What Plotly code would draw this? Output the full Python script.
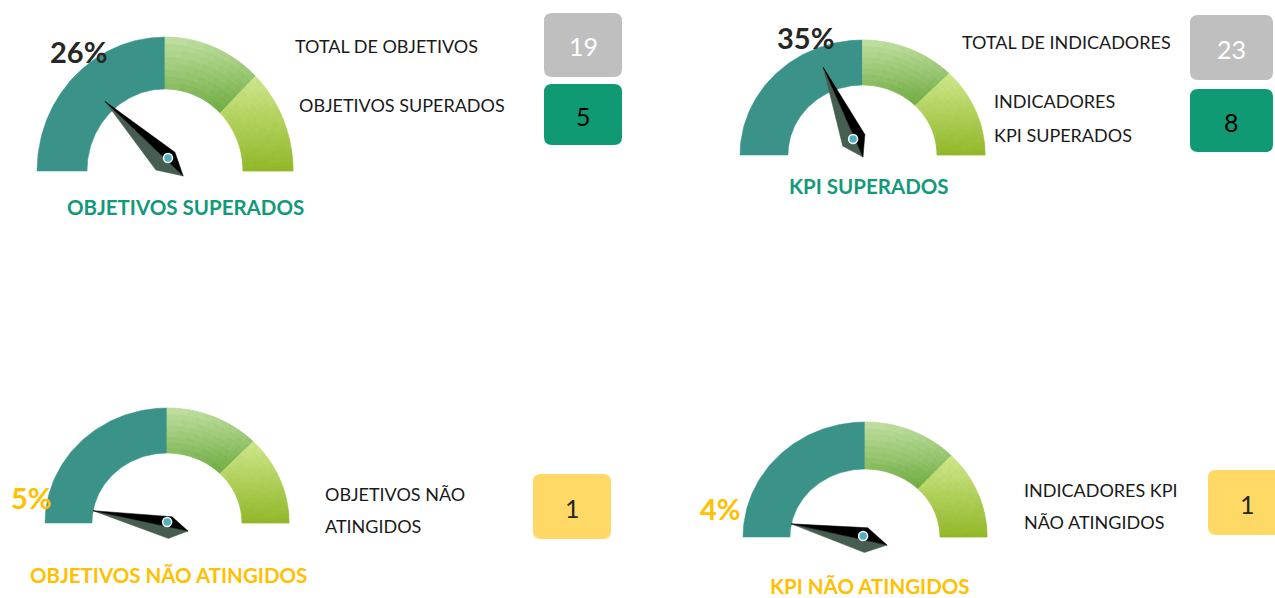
import numpy as np
import plotly.graph_objects as go

# ---------------- data ----------------
gauge_titles = ["OBJETIVOS SUPERADOS", "KPI SUPERADOS", "OBJETIVOS NÃO ATINGIDOS", "KPI NÃO ATINGIDOS"]
gauge_counts = [5, 8, 1, 1]
gauge_totals = [19, 23, 19, 23]
band_edges = [0.0, 0.5, 0.75, 1.0]

total_objetivos = 19
objetivos_superados = 5
total_indicadores = 23
kpi_superados = 8
objetivos_nao_atingidos = 1
kpi_nao_atingidos = 1

side_labels = [
    [["TOTAL DE OBJETIVOS"], ["OBJETIVOS SUPERADOS"]],
    [["TOTAL DE INDICADORES"], ["INDICADORES", "KPI SUPERADOS"]],
    [["OBJETIVOS NÃO", "ATINGIDOS"]],
    [["INDICADORES KPI", "NÃO ATINGIDOS"]],
]
side_values = [
    [total_objetivos, objetivos_superados],
    [total_indicadores, kpi_superados],
    [objetivos_nao_atingidos],
    [kpi_nao_atingidos],
]

# ---------------- layout / style ----------------
W, H = 1275, 598
TEAL = "#3a9289"
GREEN_TXT = "#12997a"
YELLOW_TXT = "#ffc000"
seg_grad = [(("#bcdd9d"), ("#72ad44")), (("#cbe486"), ("#92b82a"))]

# needle geometry: distances along the value direction (u) and perpendicular offsets (n)
gauges = [
    dict(cx=165, cy=171, rxo=128, ryo=134, rxi=78, ryi=82,
         tip=(92, 3), piv=(7, 7), tail=(-16, 10), hw=13, dot=(7.5, 11),
         pct_xy=(78, 51), pct_col="#262626", title_xy=(185, 207), title_col=GREEN_TXT),
    dict(cx=862.5, cy=155, rxo=122.5, ryo=115, rxi=74.5, ryi=70,
         tip=(96, 5.5), piv=(17, -1), tail=(-2, -0.5), hw=12.5, dot=(18.5, -1),
         pct_xy=(805, 37), pct_col="#262626", title_xy=(869, 186), title_col=GREEN_TXT),
    dict(cx=167, cy=523, rxo=122, ryo=115, rxi=75, ryi=70,
         tip=(75, 0), piv=(-4, -4), tail=(-22, -4.5), hw=11, dot=(0, 1),
         pct_xy=(31, 497), pct_col=YELLOW_TXT, title_xy=(168, 575), title_col=YELLOW_TXT),
    dict(cx=865, cy=537, rxo=122, ryo=115, rxi=75, ryi=68,
         tip=(75, 3), piv=(-1.5, -3), tail=(-23, -5), hw=12.5, dot=(2, 0.7),
         pct_xy=(720, 508), pct_col=YELLOW_TXT, title_xy=(870, 586), title_col=YELLOW_TXT),
]

label_pos = [
    [[(293, 46)], [(297, 105)]],
    [[(960, 42)], [(992, 101), (992, 135)]],
    [[(323, 494), (323, 526)]],
    [[(1022, 490), (1022, 522)]],
]
box_pos = [
    [(544, 622, 13, 77, "#bfbfbf", "white"), (544, 622, 84, 145, "#0f9a73", "black")],
    [(1190, 1273, 15, 80, "#bfbfbf", "white"), (1190, 1273, 89, 152, "#0f9a73", "black")],
    [(533, 611, 474, 539, "#ffd966", "#262626")],
    [(1208, 1286, 470, 535, "#ffd966", "#262626")],
]


def hex2rgb(h):
    h = h.lstrip("#")
    return np.array([int(h[i:i + 2], 16) for i in (0, 2, 4)], dtype=float)


def lerp_col(a, b, t):
    c = hex2rgb(a) * (1 - t) + hex2rgb(b) * t
    return "rgb(%d,%d,%d)" % tuple(np.round(c).astype(int))


def ring_poly(g, f0, f1, t0, t1, n=10):
    th = np.linspace(f0 * np.pi, f1 * np.pi, n)
    rxa = g["rxi"] + t1 * (g["rxo"] - g["rxi"])
    rya = g["ryi"] + t1 * (g["ryo"] - g["ryi"])
    rxb = g["rxi"] + t0 * (g["rxo"] - g["rxi"])
    ryb = g["ryi"] + t0 * (g["ryo"] - g["ryi"])
    xo = g["cx"] - rxa * np.cos(th)
    yo = g["cy"] - rya * np.sin(th)
    xi = g["cx"] - rxb * np.cos(th[::-1])
    yi = g["cy"] - ryb * np.sin(th[::-1])
    xs = np.concatenate([xo, xi, xo[:1]])
    ys = np.concatenate([yo, yi, yo[:1]])
    return list(xs), list(ys)


def rounded_rect(x0, x1, y0, y1, r=8):
    return (f"M{x0+r},{y0} L{x1-r},{y0} Q{x1},{y0} {x1},{y0+r} L{x1},{y1-r} Q{x1},{y1} {x1-r},{y1} "
            f"L{x0+r},{y1} Q{x0},{y1} {x0},{y1-r} L{x0},{y0+r} Q{x0},{y0} {x0+r},{y0} Z")


fig = go.Figure()
annotations = []
shapes = []
FONT = "Lato"

for gi, g in enumerate(gauges):
    # teal band (first band)
    xs, ys = ring_poly(g, band_edges[0], band_edges[1], 0, 1, n=80)
    fig.add_trace(go.Scatter(x=xs, y=ys, fill="toself", fillcolor=TEAL, mode="lines",
                             line=dict(color=TEAL, width=0.5), hoverinfo="skip"))
    # gradient bands
    for si in range(2):
        f0, f1 = band_edges[si + 1], band_edges[si + 2]
        ctop, cbot = seg_grad[si]
        na, nr = 22, 8
        fa = np.linspace(f0, f1, na + 1)
        tr = np.linspace(0, 1, nr + 1)
        cells = []
        for a in range(na):
            for r in range(nr):
                thc = (fa[a] + fa[a + 1]) / 2 * np.pi
                tc = (tr[r] + tr[r + 1]) / 2
                ryc = g["ryi"] + tc * (g["ryo"] - g["ryi"])
                yc = g["cy"] - ryc * np.sin(thc)
                cells.append((a, r, yc))
        yvals = np.array([c[2] for c in cells])
        ymin, ymax = yvals.min(), yvals.max()
        nq = 18
        groups = {}
        for a, r, yc in cells:
            q = int(round((yc - ymin) / (ymax - ymin) * (nq - 1)))
            groups.setdefault(q, []).append((a, r))
        for q, lst in groups.items():
            col = lerp_col(ctop, cbot, q / (nq - 1))
            X, Y = [], []
            for a, r in lst:
                xs, ys = ring_poly(g, fa[a], fa[a + 1], tr[r], tr[r + 1], n=3)
                X += xs + [None]
                Y += ys + [None]
            fig.add_trace(go.Scatter(x=X, y=Y, fill="toself", fillcolor=col, mode="lines",
                                     line=dict(color=col, width=0.8), hoverinfo="skip"))
    # needle
    frac = gauge_counts[gi] / gauge_totals[gi]
    th = frac * np.pi
    u = np.array([-np.cos(th), -np.sin(th)])
    nvec = np.array([-u[1], u[0]])
    C = np.array([g["cx"], g["cy"]])

    def pt(p):
        return C + p[0] * u + p[1] * nvec

    tip = pt(g["tip"])
    P = pt(g["piv"])
    tail = pt(g["tail"])
    sb = P + g["hw"] * nvec
    sg = P - g["hw"] * nvec
    for side, col in ((sg, "#465e4f"), (sb, "#000000")):
        pts = [tip, side, tail, tip]
        fig.add_trace(go.Scatter(x=[p[0] for p in pts], y=[p[1] for p in pts], fill="toself",
                                 fillcolor=col, mode="lines", line=dict(color=col, width=0.5),
                                 hoverinfo="skip"))
    dot = pt(g["dot"])
    fig.add_trace(go.Scatter(x=[dot[0]], y=[dot[1]], mode="markers",
                             marker=dict(size=9, color="#4fb0c0", line=dict(color="white", width=1.5)),
                             hoverinfo="skip"))
    # percent label
    pct = round(frac * 100)
    annotations.append(dict(x=g["pct_xy"][0], y=g["pct_xy"][1], text=f"<b>{pct}%</b>", showarrow=False,
                            font=dict(family=FONT, size=29, color=g["pct_col"]),
                            xanchor="center", yanchor="middle"))
    # title
    annotations.append(dict(x=g["title_xy"][0], y=g["title_xy"][1], text=f"<b>{gauge_titles[gi]}</b>",
                            showarrow=False, font=dict(family=FONT, size=20.5, color=g["title_col"]),
                            xanchor="center", yanchor="middle"))
    # side labels and value boxes
    for li, lines in enumerate(side_labels[gi]):
        for k, line in enumerate(lines):
            x, y = label_pos[gi][li][k]
            annotations.append(dict(x=x, y=y, text=line, showarrow=False,
                                    font=dict(family=FONT, size=18, color="#1a1a1a"),
                                    xanchor="left", yanchor="middle"))
        x0, x1, y0, y1, fc, tc = box_pos[gi][li]
        shapes.append(dict(type="path", path=rounded_rect(x0, x1, y0, y1), xref="x", yref="y",
                           fillcolor=fc, line=dict(width=0), layer="below"))
        annotations.append(dict(x=(x0 + x1) / 2, y=(y0 + y1) / 2 + 1, text=str(side_values[gi][li]),
                                showarrow=False, font=dict(family=FONT, size=25, color=tc),
                                xanchor="center", yanchor="middle"))

fig.update_layout(
    width=W, height=H, margin=dict(l=0, r=0, t=0, b=0),
    paper_bgcolor="white", plot_bgcolor="white", showlegend=False,
    xaxis=dict(range=[0, W], visible=False, fixedrange=True),
    yaxis=dict(range=[H, 0], visible=False, fixedrange=True),
    annotations=annotations, shapes=shapes, hovermode=False,
)
fig.write_html("out.html", config={"displayModeBar": False},
               post_script="document.body.style.margin='0';document.body.style.overflow='hidden';")
